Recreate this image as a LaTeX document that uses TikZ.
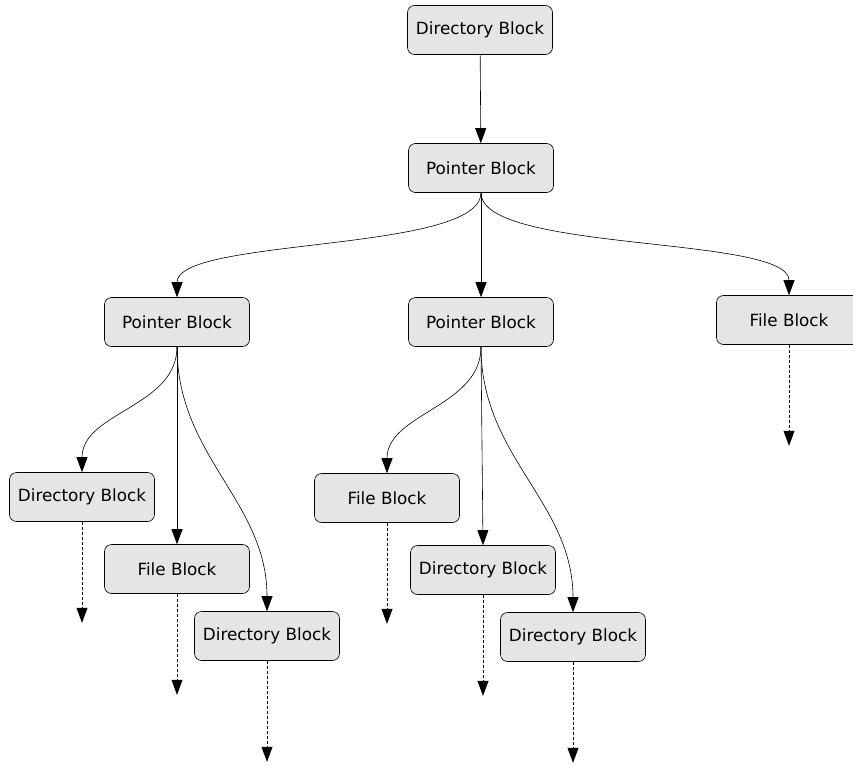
\documentclass[tikz,border=0pt]{standalone}
\usepackage{fontspec}
\setmainfont{DejaVu Sans}
\usetikzlibrary{arrows.meta}
\begin{document}
\begin{tikzpicture}[x=1pt,y=-1pt,>={Triangle[length=15pt,width=11pt]}, font=\fontsize{16.8}{18}\selectfont, line join=round,
	block/.style={draw=black,fill=black!10,rounded corners=7pt,minimum width=145pt,minimum height=49pt,inner sep=0pt,line width=0.6pt},
	link/.style={->,line width=0.6pt},
	more/.style={->,line width=0.6pt,dash pattern=on 3pt off 2pt}]
	\def\d{60} % control distance
	\useasboundingbox (0,0) rectangle (853,765);
	\node[block] (dir0) at (480,30) {Directory Block};
	\node[block] (ptr1) at (481,168) {Pointer Block};
	\node[block] (ptr2) at (177,322) {Pointer Block};
	\node[block] (ptr3) at (481,322) {Pointer Block};
	\node[block] (file1) at (789,320) {File Block};
	\node[block] (dir4) at (82,497) {Directory Block};
	\node[block] (file5) at (177,569) {File Block};
	\node[block] (dir6) at (267,636) {Directory Block};
	\node[block] (file7) at (387,498) {File Block};
	\node[block] (dir8) at (483,570) {Directory Block};
	\node[block] (dir9) at (573,637) {Directory Block};
	% links between blocks
	\draw[link] (dir0) -- (ptr1);
	\draw[link] (ptr1.south) .. controls +(0,\d) and +(0,-\d) .. (ptr2.north);
	\draw[link] (ptr1) -- (ptr3);
	\draw[link] (ptr1.south) .. controls +(0,\d) and +(0,-\d) .. (file1.north);
	\draw[link] (ptr2.south) .. controls +(0,\d) and +(0,-\d) .. (dir4.north);
	\draw[link] (ptr2) -- (file5);
	\draw[link] (ptr2.south) .. controls +(0,110) and +(0,-110) .. (dir6.north);
	\draw[link] (ptr3.south) .. controls +(0,\d) and +(0,-\d) .. (file7.north);
	\draw[link] (ptr3.south) -- (dir8.north);
	\draw[link] (ptr3.south) .. controls +(0,110) and +(0,-110) .. (dir9.north);
	% continuations
	\foreach \n in {file1,dir4,file5,dir6,file7,dir8,dir9}{
		\coordinate (\n-end) at ([yshift=-101pt]\n.south);
		\draw[more] (\n.south) -- (\n-end);
	}
\end{tikzpicture}
\end{document}
